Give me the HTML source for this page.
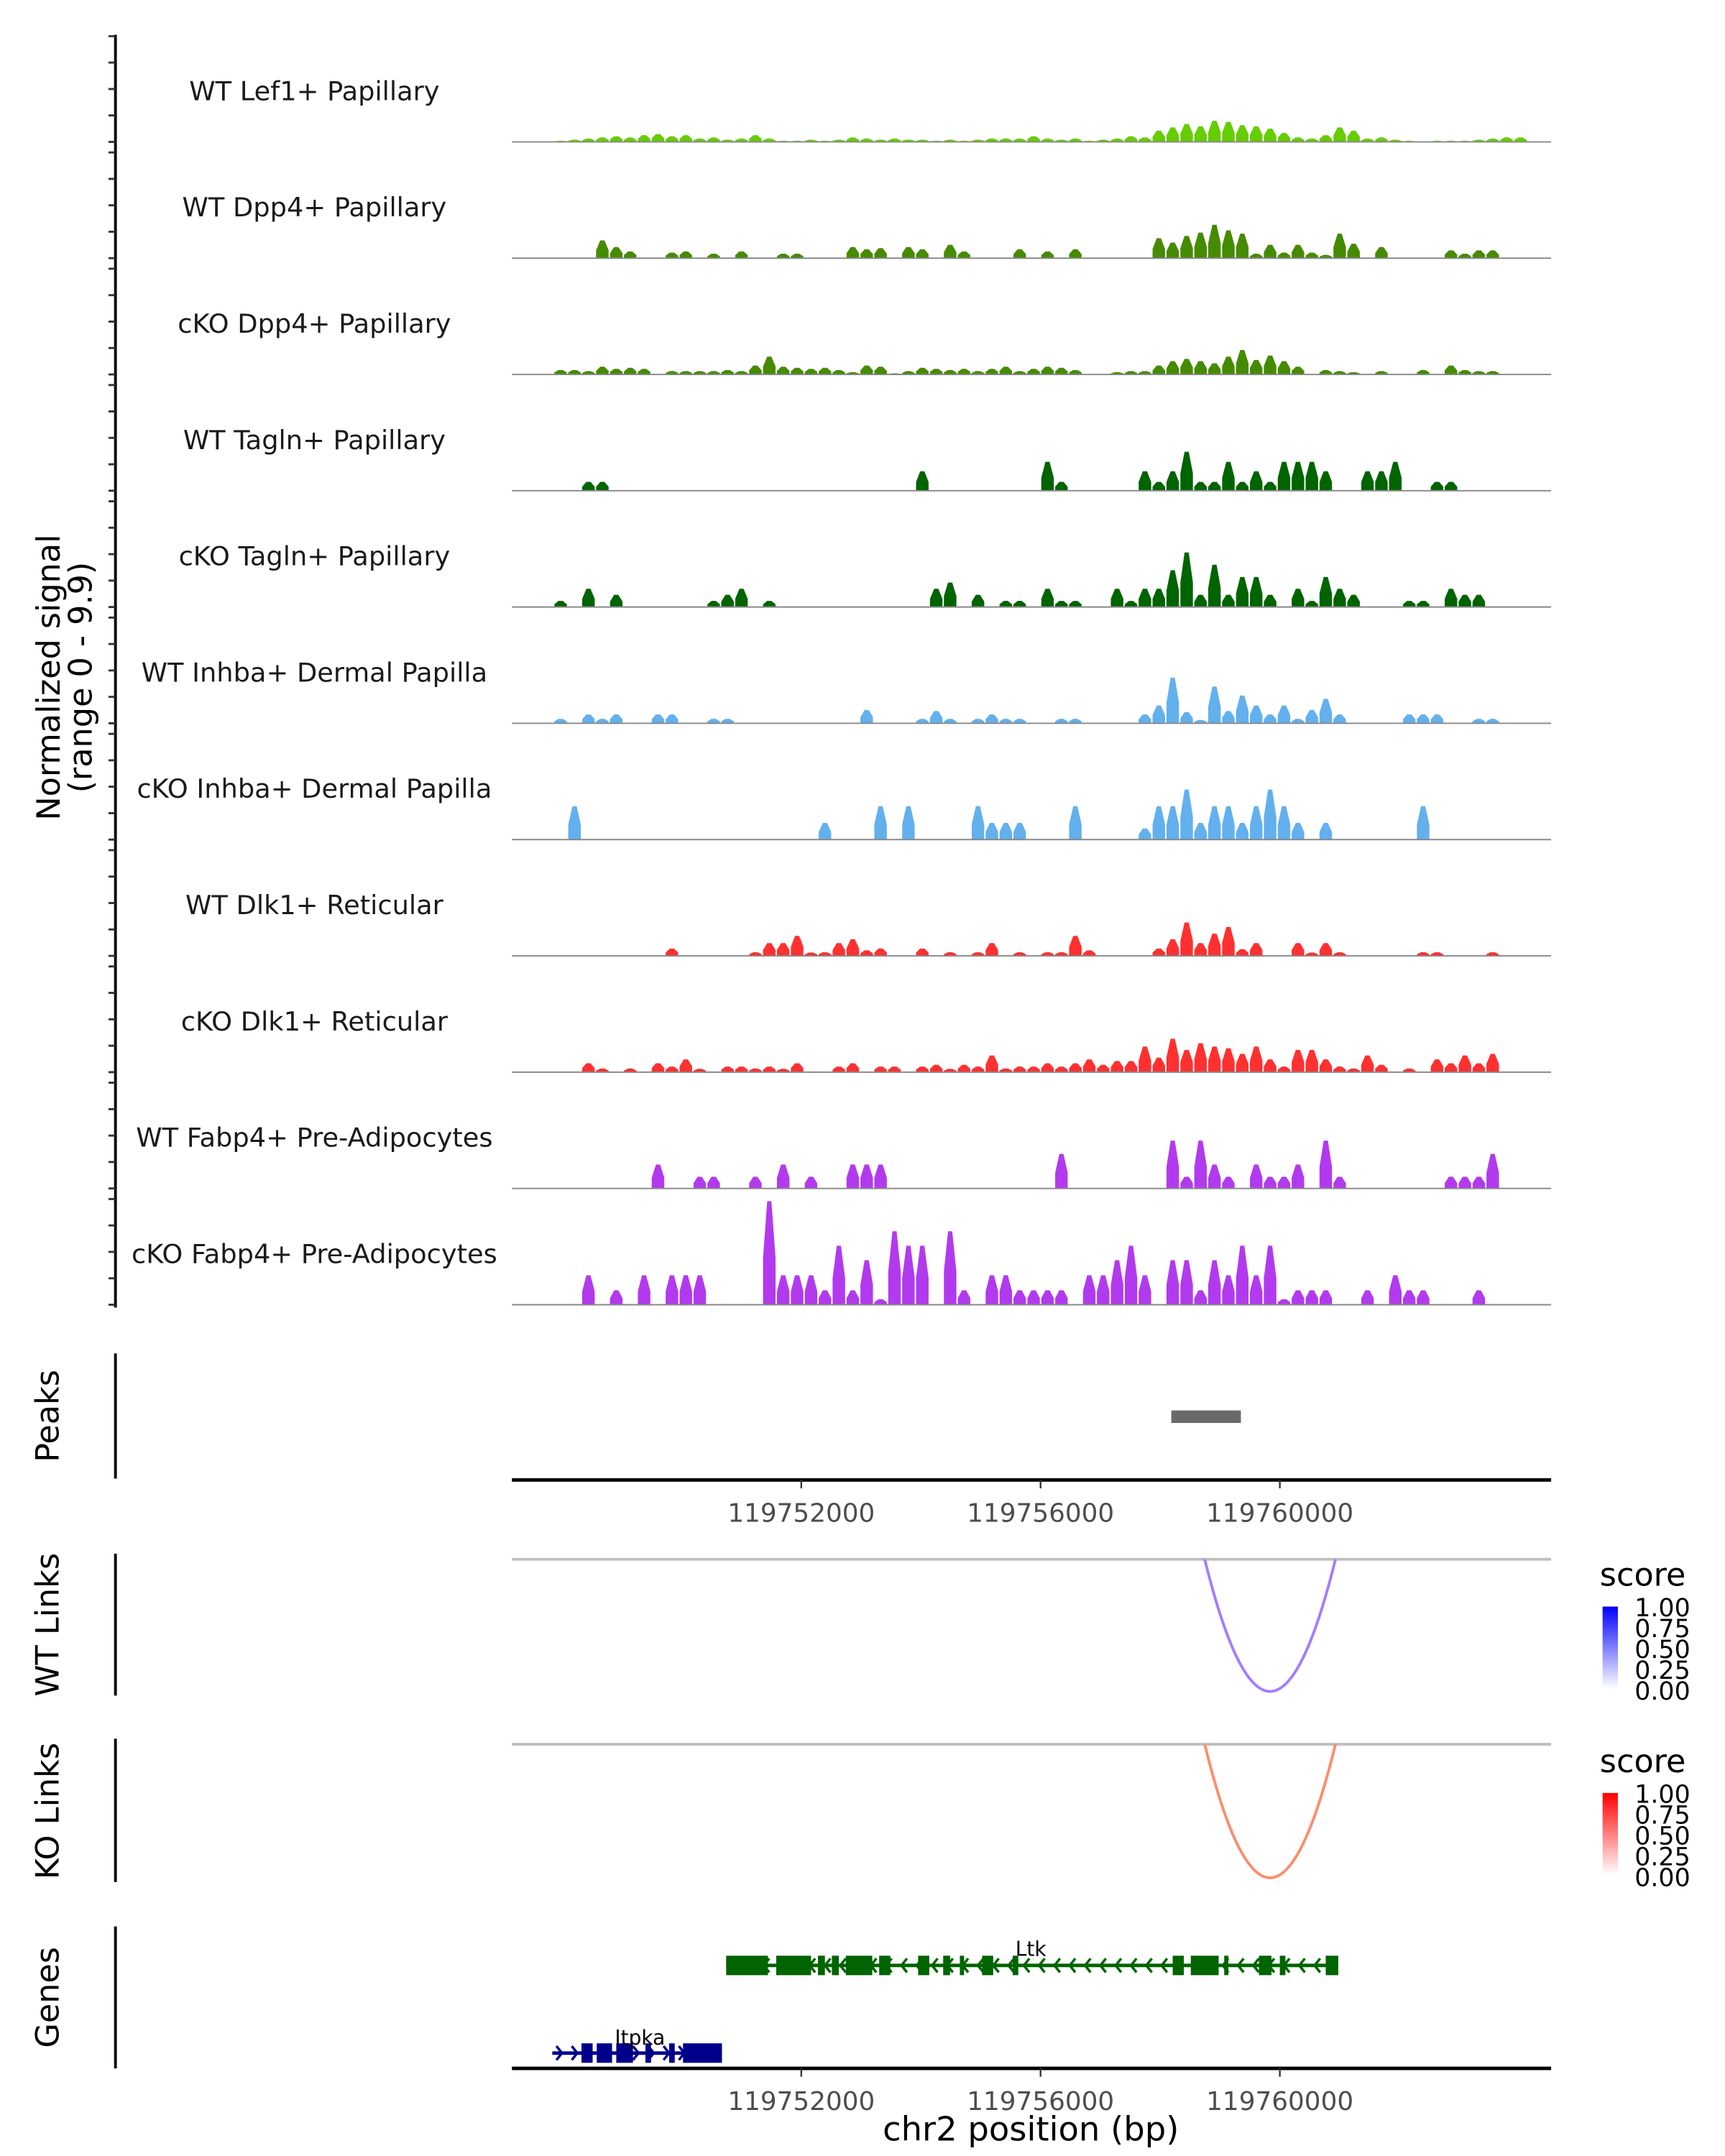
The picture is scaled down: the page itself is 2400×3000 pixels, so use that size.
<!DOCTYPE html>
<html><head><meta charset="utf-8"><style>
html,body{margin:0;padding:0;background:#fff;}
svg{display:block;font-family:"DejaVu Sans","Liberation Sans",sans-serif;}
</style></head><body>
<svg id="chart" width="2400" height="3000" viewBox="0 0 1240 1550" xmlns="http://www.w3.org/2000/svg">
<defs>
<linearGradient id="gBlue" x1="0" y1="1" x2="0" y2="0"><stop offset="0" stop-color="#ffffff"/><stop offset="1" stop-color="#0000ff"/></linearGradient>
<linearGradient id="gRed" x1="0" y1="1" x2="0" y2="0"><stop offset="0" stop-color="#ffffff"/><stop offset="1" stop-color="#ff0000"/></linearGradient>
</defs>
<g id="tracks"></g>
<line x1="83" y1="25" x2="83" y2="940" stroke="#000" stroke-width="2"/>
<g id="yticks"></g>
<text transform="translate(43,487) rotate(-90)" text-anchor="middle" font-size="23">Normalized signal</text>
<text transform="translate(66,487) rotate(-90)" text-anchor="middle" font-size="23">(range 0 - 9.9)</text>

<line x1="83" y1="973" x2="83" y2="1063" stroke="#000" stroke-width="2"/>
<text transform="translate(42,1018) rotate(-90)" text-anchor="middle" font-size="23">Peaks</text>
<g id="peaks"></g>
<g id="xaxis1"></g>

<line x1="83" y1="1117" x2="83" y2="1219" stroke="#000" stroke-width="2"/>
<text transform="translate(42,1168) rotate(-90)" text-anchor="middle" font-size="23">WT Links</text>
<line x1="368" y1="1121" x2="1115" y2="1121" stroke="#bebebe" stroke-width="2"/>
<g id="wtlinks"></g>
<g>
<text x="1150" y="1140" font-size="23">score</text>
<rect x="1152" y="1155" width="11" height="59" fill="url(#gBlue)"/>
<text x="1175" y="1162" font-size="18">1.00</text><text x="1175" y="1177" font-size="18">0.75</text><text x="1175" y="1192" font-size="18">0.50</text><text x="1175" y="1207" font-size="18">0.25</text><text x="1175" y="1222" font-size="18">0.00</text>
</g>

<line x1="83" y1="1250" x2="83" y2="1353" stroke="#000" stroke-width="2"/>
<text transform="translate(42,1302) rotate(-90)" text-anchor="middle" font-size="23">KO Links</text>
<line x1="368" y1="1254" x2="1115" y2="1254" stroke="#bebebe" stroke-width="2"/>
<g id="kolinks"></g>
<g>
<text x="1150" y="1274" font-size="23">score</text>
<rect x="1152" y="1289" width="11" height="59" fill="url(#gRed)"/>
<text x="1175" y="1296" font-size="18">1.00</text><text x="1175" y="1311" font-size="18">0.75</text><text x="1175" y="1326" font-size="18">0.50</text><text x="1175" y="1341" font-size="18">0.25</text><text x="1175" y="1356" font-size="18">0.00</text>
</g>

<line x1="83" y1="1385" x2="83" y2="1487" stroke="#000" stroke-width="2"/>
<text transform="translate(42,1436) rotate(-90)" text-anchor="middle" font-size="23">Genes</text>
<g id="genes"></g>
<g id="xaxis2"></g>
<text x="741" y="1539" text-anchor="middle" font-size="24">chr2 position (bp)</text>
</svg>
<script>
const NS="http://www.w3.org/2000/svg";
// ---- data ----
const regionStart=119747163, regionEnd=119764535, binBp=232.56;
const trackNames=["WT Lef1+ Papillary","WT Dpp4+ Papillary","cKO Dpp4+ Papillary","WT Tagln+ Papillary","cKO Tagln+ Papillary","WT Inhba+ Dermal Papilla","cKO Inhba+ Dermal Papilla","WT Dlk1+ Reticular","cKO Dlk1+ Reticular","WT Fabp4+ Pre-Adipocytes","cKO Fabp4+ Pre-Adipocytes"];
const trackColors=["#66cd00","#458b00","#458b00","#006400","#006400","#63b0ee","#63b0ee","#ff3030","#ff3030","#b23aee","#b23aee"];
const sigLef1WT=[0,0,0,0.1,0.2,0.3,0.4,0.5,0.4,0.6,0.7,0.5,0.6,0.3,0.4,0.2,0.3,0.6,0.3,0.1,0.1,0.2,0.1,0.2,0.4,0.3,0.2,0.3,0.2,0.2,0.1,0.2,0.1,0.2,0.3,0.3,0.3,0.5,0.3,0.2,0.3,0.1,0.2,0.3,0.5,0.4,1.0,1.3,1.6,1.4,1.9,1.8,1.5,1.4,1.2,0.8,0.4,0.3,0.6,1.3,1.0,0.3,0.4,0.2,0.1,0,0.1,0.1,0.1,0.2,0.3,0.4,0.4,0,0];
const sigDpp4WT=[0,0,0,0,0,0,1.6,1.0,0.6,0,0,0.5,0.6,0,0.4,0,0.6,0,0,0.4,0.4,0,0,0,1.0,0.8,0.9,0,1.0,0.8,0,1.2,0.6,0,0,0,0.8,0,0.6,0,0.8,0,0,0,0,0,1.8,1.4,2.0,2.3,3.0,2.5,2.2,0.4,1.2,0.5,1.2,0.5,0.3,2.2,1.3,0,1.0,0,0,0,0,0.7,0.4,0.7,0.7,0,0,0,0];
const sigDpp4KO=[0,0,0,0.4,0.4,0.3,0.7,0.5,0.6,0.5,0,0.3,0.3,0.3,0.3,0.4,0.3,0.8,1.6,0.7,0.6,0.5,0.6,0.4,0.2,0.8,0.7,0.1,0.3,0.6,0.5,0.4,0.5,0.3,0.5,0.7,0.3,0.5,0.7,0.6,0.4,0,0,0.2,0.3,0.3,0.8,1.2,1.4,1.2,1.0,1.6,2.2,1.3,1.7,1.2,0.7,0,0.4,0.3,0.2,0,0.3,0,0,0.4,0,0.8,0.4,0.3,0.3,0,0,0,0];
const sigTaglnWT=[0,0,0,0,0,0.8,0.8,0,0,0,0,0,0,0,0,0,0,0,0,0,0,0,0,0,0,0,0,0,0,1.75,0,0,0,0,0,0,0,0,2.6,0.8,0,0,0,0,0,1.75,0.8,1.75,3.5,0.8,0.8,2.6,0.8,1.75,0.8,2.6,2.6,2.6,1.75,0,0,1.75,1.75,2.6,0,0,0.8,0.8,0,0,0,0,0,0,0];
const sigTaglnKO=[0,0,0,0.55,0,1.64,0,1.1,0,0,0,0,0,0,0.55,1.1,1.64,0,0.55,0,0,0,0,0,0,0,0,0,0,0,1.64,2.2,0,1.1,0,0.55,0.55,0,1.64,0.55,0.55,0,0,1.64,0.55,1.64,1.64,3.3,4.9,1.1,3.8,1.1,2.7,2.7,1.1,0,1.64,0.55,2.7,1.64,1.1,0,0,0,0.55,0.55,0,1.64,1.1,1.1,0,0,0,0,0];
const sigInhbaWT=[0,0,0,0.4,0,0.8,0.4,0.8,0,0,0.8,0.8,0,0,0.4,0.4,0,0,0,0,0,0,0,0,0,1.2,0,0,0,0.4,1.1,0.4,0,0.4,0.8,0.4,0.4,0,0,0.4,0.4,0,0,0,0,0.8,1.6,4.1,1.0,0.3,3.3,1.1,2.5,1.6,0.8,1.6,0.4,1.2,2.2,0.8,0,0,0,0,0.8,0.8,0.8,0,0,0.4,0.4,0,0,0,0];
const sigInhbaKO=[0,0,0,0,3.0,0,0,0,0,0,0,0,0,0,0,0,0,0,0,0,0,0,1.5,0,0,0,3.0,0,3.0,0,0,0,0,3.0,1.5,1.5,1.5,0,0,0,3.0,0,0,0,0,1.0,3.0,3.0,4.5,1.5,3.0,3.0,1.5,3.0,4.5,3.0,1.5,0,1.5,0,0,0,0,0,0,3.0,0,0,0,0,0,0,0,0,0];
const sigDlk1WT=[0,0,0,0,0,0,0,0,0,0,0,0.66,0,0,0,0,0,0.33,1.15,1.15,1.8,0.3,0.33,1.15,1.5,0.5,0.66,0,0,0.66,0,0.33,0,0.33,1.15,0,0.33,0,0.33,0.33,1.8,0.5,0,0,0,0,0.66,1.5,3.0,1.15,2.0,2.6,0.6,1.15,0,0,1.15,0.3,1.15,0.33,0,0,0,0,0,0.33,0.33,0,0,0,0.33,0,0,0,0];
const sigDlk1KO=[0,0,0,0,0,0.8,0.33,0,0.33,0,0.8,0.5,1.15,0.3,0,0.5,0.5,0.33,0.5,0.3,0.8,0,0,0.5,0.8,0,0.5,0.5,0,0.5,0.66,0.3,0.66,0.5,1.5,0.33,0.5,0.5,0.8,0.5,0.8,1.15,0.66,1.0,1.0,2.3,1.3,3.0,2.0,2.6,2.3,2.15,1.65,2.3,1.15,0.5,2.0,2.0,1.15,0.5,0.33,1.5,0.66,0,0.33,0,1.15,0.8,1.5,0.8,1.65,0,0,0,0];
const sigFabp4WT=[0,0,0,0,0,0,0,0,0,0,2.15,0,0,1.05,1.05,0,0,1.05,0,2.15,0,1.05,0,0,2.15,2.15,2.15,0,0,0,0,0,0,0,0,0,0,0,0,3.1,0,0,0,0,0,0,0,4.3,1.05,4.3,2.15,1.05,0,2.15,1.05,1.05,2.15,0,4.3,1.05,0,0,0,0,0,0,0,1.05,1.05,1.05,3.1,0,0,0,0];
const sigFabp4KO=[0,0,0,0,0,2.65,0,1.3,0,2.65,0,2.65,2.65,2.65,0,0,0,0,9.3,2.65,2.65,2.65,1.3,5.3,1.3,4.0,0.5,6.6,5.3,5.3,0,6.6,1.3,0,2.65,2.65,1.3,1.3,1.3,1.3,0,2.65,2.65,4.0,5.3,2.65,0,4.0,4.0,1.3,4.0,2.65,5.3,2.65,5.3,0.5,1.3,1.3,1.3,0,0,1.3,0,2.65,1.3,1.3,0,0,0,1.3,0,0,0,0,0];
const trackSignals=[sigLef1WT,sigDpp4WT,sigDpp4KO,sigTaglnWT,sigTaglnKO,sigInhbaWT,sigInhbaKO,sigDlk1WT,sigDlk1KO,sigFabp4WT,sigFabp4KO];
const xTicks=[119752000,119756000,119760000];
const xTickLabels=["119752000","119756000","119760000"];
const peakStart=[119758186], peakEnd=[119759349];
const wtLinkStart=[119758744], wtLinkEnd=[119760930], wtLinkScore=[0.55];
const koLinkStart=[119758744], koLinkEnd=[119760930], koLinkScore=[0.55];
const ltkStart=119750744, ltkEnd=119760977;
const ltkExonStart=[119750744,119751581,119752279,119752512,119752744,119753302,119753953,119754372,119754651,119755023,119755535,119758209,119758512,119759070,119759651,119760000,119760767];
const ltkExonEnd=[119751442,119752163,119752395,119752628,119753186,119753488,119754140,119754488,119754721,119755209,119755628,119758395,119758977,119759140,119759860,119760093,119760977];
const itpkaStart=119747837, itpkaEnd=119750674;
const itpkaExonStart=[119748326,119748581,119748907,119749395,119749791,119750023];
const itpkaExonEnd=[119748512,119748837,119749186,119749488,119749884,119750674];
// ---- scales ----
const X0=368,X1=1115;
function xs(bp){return X0+(bp-regionStart)/(regionEnd-regionStart)*(X1-X0);}
const baseY0=102, trackStep=83.6, yPerUnit=8;
function ys(v,base){return base-v*yPerUnit;}
function mk(tag,attrs,parent){const e=document.createElementNS(NS,tag);for(const k in attrs)e.setAttribute(k,attrs[k]);parent.appendChild(e);return e;}

const gT=document.getElementById('tracks');
trackSignals.forEach((arr,t)=>{
  const base=baseY0+t*trackStep;
  const g=mk('g',{},gT);
  
  
  const lbl=mk('text',{x:226,y:base-30,'text-anchor':'middle','font-size':'19',fill:'#1a1a1a'},g);
  lbl.textContent=trackNames[t];
  
  
  let d='';
  arr.forEach((v,i)=>{
    if(v<=0)return;
    const a=xs(regionStart+i*binBp), b=xs(regionStart+(i+1)*binBp), c=(a+b)/2;
    d+=`M${a+0.5},${base}L${a+0.5},${ys(v*0.45,base)}L${c-1.5},${ys(v,base)}L${c+1.5},${ys(v,base)}L${b-0.5},${ys(v*0.45,base)}L${b-0.5},${base}Z`;
  });
  const p=mk('path',{d:d,fill:trackColors[t]},g);
  
  
  const bl=mk('line',{x1:X0,y1:base,x2:X1,y2:base,stroke:'#888',"stroke-width":1},g);
  
  
});
const gY=document.getElementById('yticks');
for(let t=0;t<11;t++){const base=baseY0+t*trackStep;for(let j=0;j<5;j++){const y=base-76+j*19;const l=mk('line',{x1:78,y1:y,x2:83,y2:y,stroke:'#333',"stroke-width":1.5},gY);}}

const gP=document.getElementById('peaks');
peakStart.forEach((s,i)=>{const r=mk('rect',{x:xs(s),y:1014,width:xs(peakEnd[i])-xs(s),height:9,fill:'#696969'},gP);});

function axis(id,y,ly){const g=document.getElementById(id);
  const l=mk('line',{x1:X0,y1:y,x2:X1,y2:y,stroke:'#000',"stroke-width":2.5},g);
  xTicks.forEach((v,i)=>{const x=xs(v);const tk=mk('line',{x1:x,y1:y,x2:x,y2:y+6,stroke:'#333',"stroke-width":1.2},g);
    const tx=mk('text',{x:x,y:ly,'text-anchor':'middle','font-size':'18.5',fill:'#4d4d4d'},g);tx.textContent=xTickLabels[i];});}
axis('xaxis1',1064,1094);axis('xaxis2',1487,1517);

function links(id,st,en,sc,base,depth,color){const g=document.getElementById(id);
  st.forEach((s,i)=>{const a=xs(s),b=xs(en[i]);const c=(a+b)/2;const p=mk('path',{d:`M${a},${base}Q${c},${base+2*depth} ${b},${base}`,fill:'none',stroke:color,"stroke-width":2},g);});}
links('wtlinks',wtLinkStart,wtLinkEnd,wtLinkScore,1121,95,'#a27dff');
links('kolinks',koLinkStart,koLinkEnd,koLinkScore,1254,96,'#ff8c6c');

const gG=document.getElementById('genes');
function gene(name,s,e,es,ee,y,color,dir,lx,ly){const g=mk('g',{},gG);
  
  
  mk('line',{x1:xs(s),y1:y,x2:xs(e),y2:y,stroke:color,"stroke-width":2.5},g);
  for(let x=xs(s)+6;x<xs(e)-4;x+=11){const d=dir<0?`M${x+3},${y-5}L${x-1},${y}L${x+3},${y+5}`:`M${x-3},${y-5}L${x+1},${y}L${x-3},${y+5}`;mk('path',{d:d,fill:'none',stroke:color,"stroke-width":1.8},g);}
  es.forEach((a,i)=>{mk('rect',{x:xs(a),y:y-7,width:Math.max(2,xs(ee[i])-xs(a)),height:14,fill:color},g);});
  const t=mk('text',{x:lx,y:ly,'text-anchor':'middle','font-size':'14.5',fill:'#000'},g);t.textContent=name;}
gene('Ltk',ltkStart,ltkEnd,ltkExonStart,ltkExonEnd,1413,'#006400',-1,741,1406);
gene('Itpka',itpkaStart,itpkaEnd,itpkaExonStart,itpkaExonEnd,1476,'#00008b',1,460,1470);
</script>
</body></html>
